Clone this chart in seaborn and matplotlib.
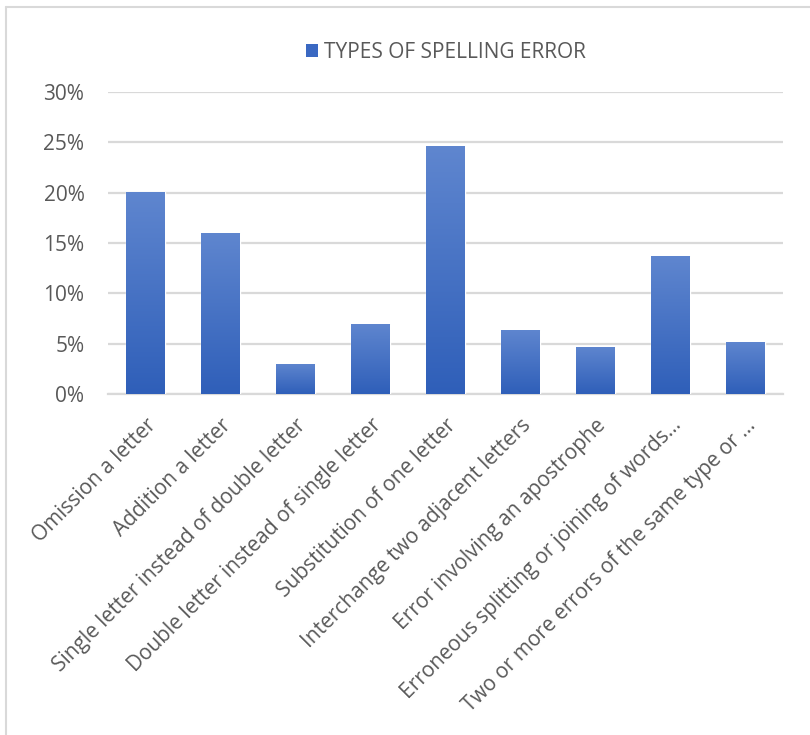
import numpy as np
import pandas as pd
import matplotlib
matplotlib.use("Agg")
import matplotlib.pyplot as plt
import matplotlib.patheffects as pe
from matplotlib.colors import LinearSegmentedColormap
from matplotlib.lines import Line2D
from matplotlib.patches import Patch
import seaborn as sns

categories = [
    "Omission a letter",
    "Addition a letter",
    "Single letter instead of double letter",
    "Double letter instead of single letter",
    "Substitution of one letter",
    "Interchange two adjacent letters",
    "Error involving an apostrophe",
    "Erroneous splitting or joining of words…",
    "Two or more errors of the same type or …",
]
values = [0.201, 0.160, 0.030, 0.070, 0.246, 0.064, 0.047, 0.137, 0.052]
yticks = [0.0, 0.05, 0.10, 0.15, 0.20, 0.25, 0.30]
ytick_labels = ["0%", "5%", "10%", "15%", "20%", "25%", "30%"]
series_name = "TYPES OF SPELLING ERROR"

sns.set_theme(style="white")
plt.rcParams["font.family"] = ["Open Sans", "DejaVu Sans"]

text_color = "#595959"
grid_color = "#D9D9D9"
top_col = "#5F86CF"
bot_col = "#2F5FB9"

df = pd.DataFrame({"category": categories, "value": values})

fig = plt.figure(figsize=(8.10, 7.35), dpi=100)
ax = fig.add_axes([108 / 810, 1 - 394 / 735, (783 - 108) / 810, (394 - 92) / 735])

sns.barplot(data=df, x="category", y="value", color=bot_col, width=0.51,
            ax=ax, zorder=3, saturation=1)

cmap = LinearSegmentedColormap.from_list("grad", [bot_col, top_col])
grad = np.linspace(0, 1, 256).reshape(-1, 1)
for p in ax.patches:
    p.set_path_effects([pe.SimplePatchShadow(offset=(0, -1.5), shadow_rgbFace="#808080", alpha=0.35),
                        pe.Normal()])
    x0, y0 = p.get_x(), p.get_y()
    w, h = p.get_width(), p.get_height()
    im = ax.imshow(grad, extent=[x0, x0 + w, y0, y0 + h], origin="lower",
                   cmap=cmap, aspect="auto", zorder=4)
    im.set_clip_path(p)

ax.set_xlim(-0.5, len(categories) - 0.5)
ax.set_ylim(0, 0.30)
ax.set_yticks(yticks)
ax.set_yticklabels(ytick_labels)
ax.yaxis.grid(True, color=grid_color, linewidth=1.6, zorder=0)
ax.set_axisbelow(True)
for s in ["top", "right", "left"]:
    ax.spines[s].set_visible(False)
ax.spines["bottom"].set_color(grid_color)
ax.spines["bottom"].set_linewidth(1.6)
ax.set_xlabel("")
ax.set_ylabel("")
ax.tick_params(axis="both", length=0, colors=text_color, labelsize=15)
ax.tick_params(axis="y", pad=17)
plt.setp(ax.get_xticklabels(), rotation=45, ha="right", rotation_mode="anchor")
ax.tick_params(axis="x", pad=15)

handles = [Patch(facecolor="#3A68C2", edgecolor="none")]
leg = fig.legend(handles, [series_name], loc="center", bbox_to_anchor=(446 / 810, 1 - 52 / 735),
                 frameon=False, fontsize=15, handlelength=0.6, handleheight=0.6,
                 handletextpad=0.3, labelcolor=text_color)

fig.add_artist(Line2D([6 / 810, 6 / 810], [0, 1 - 7 / 735], color=grid_color, linewidth=1.5,
                      transform=fig.transFigure))
fig.add_artist(Line2D([6 / 810, 1], [1 - 7 / 735, 1 - 7 / 735], color=grid_color, linewidth=1.5,
                      transform=fig.transFigure))

fig.savefig("out.png", dpi=100)
